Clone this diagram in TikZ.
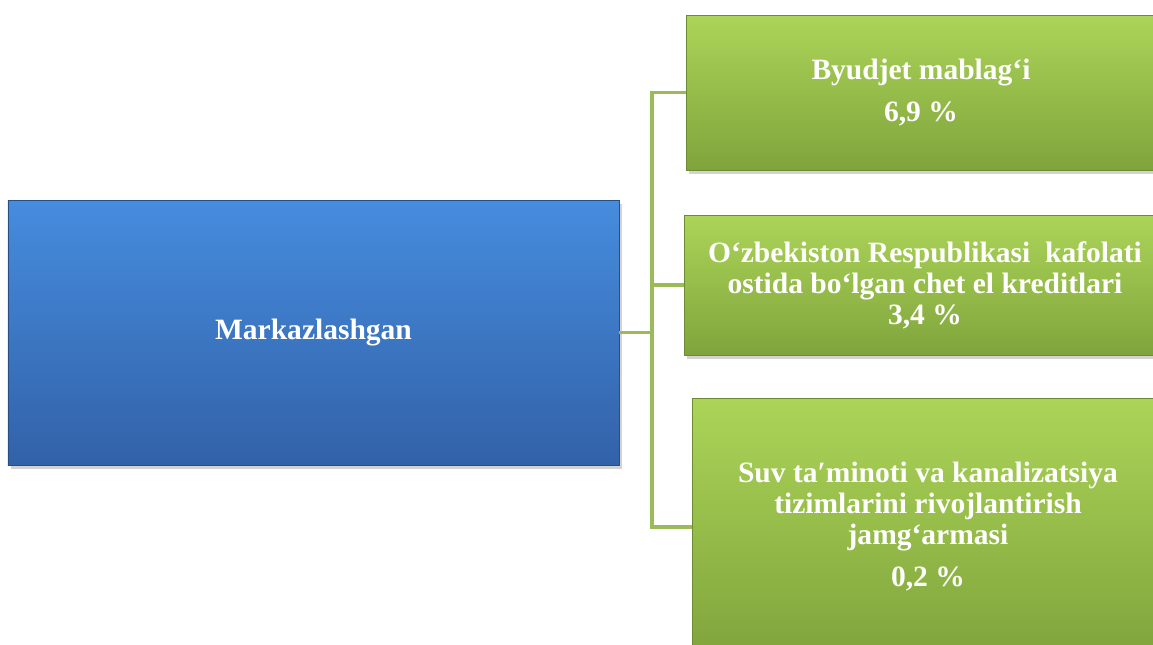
\documentclass[tikz,border=0pt]{standalone}
\usepackage{fontspec}
\setmainfont{Liberation Serif}
\usetikzlibrary{calc,shadows}
\definecolor{blueTop}{RGB}{70,140,222}
\definecolor{blueBot}{RGB}{50,98,168}
\definecolor{greenTop}{RGB}{172,212,88}
\definecolor{greenBot}{RGB}{128,164,60}
\definecolor{linkGreen}{RGB}{155,187,89}

\begin{document}
\begin{tikzpicture}[
    every node/.style={align=center, text=white, font=\fontsize{21}{22}\selectfont\bfseries},
    box/.style={rectangle, draw=#1, line width=0.6pt,
      drop shadow={shadow xshift=2pt, shadow yshift=-3pt, opacity=0.35}},
    root/.style={box=blueBot!80!black, top color=blueTop, bottom color=blueBot},
    leaf/.style={box=greenBot!85!black, top color=greenTop, bottom color=greenBot},
    link/.style={draw=linkGreen, line width=2.8pt}]
  \useasboundingbox (0,0) rectangle (28.825,-16.1);

  \node[root, minimum width=15.275cm, minimum height=6.625cm] (M) at (7.8375,-8.3125) {Markazlashgan};
  \node[leaf, minimum width=11.75cm, minimum height=3.875cm] (B1) at (23.025,-2.3125)
    {Byudjet mablag‘i\\[8pt] 6,9 \%};
  \node[leaf, minimum width=12.05cm, minimum height=3.5cm] (B2) at (23.125,-7.125)
    {O‘zbekiston Respublikasi\ \ kafolati\\ ostida bo‘lgan chet el kreditlari\\ 3,4 \%};
  \node[leaf, minimum width=11.8cm, minimum height=6.45cm] (B3) at (23.2,-13.175)
    {Suv ta′minoti va kanalizatsiya\\ tizimlarini rivojlantirish\\ jamg‘armasi\\[8pt] 0,2 \%};

  % elbow connectors
  \coordinate (J) at ($(M.east)+(0.825,0)$);
  \draw[link] (M.east) -- (J) |- (B1.west);
  \draw[link] (M.east) -- (J) |- (B2.west);
  \draw[link] (M.east) -- (J) |- (B3.west);
\end{tikzpicture}
\end{document}
